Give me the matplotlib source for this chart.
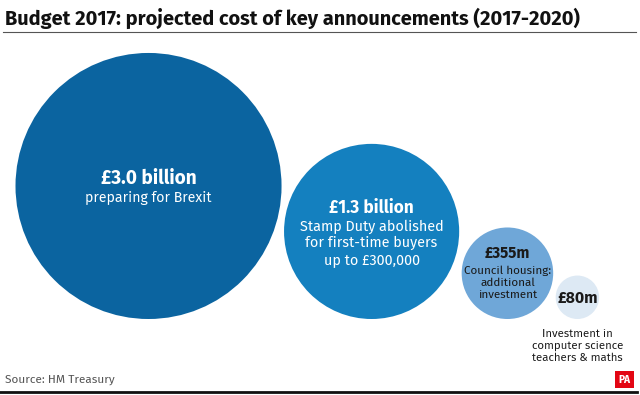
import matplotlib
matplotlib.use("Agg")
import matplotlib.pyplot as plt
from matplotlib.patches import Circle, Rectangle
import numpy as np

values = [3.0, 1.3, 0.355, 0.08]
amounts = ["£3.0 billion", "£1.3 billion", "£355m", "£80m"]
descriptions = ["preparing for Brexit",
                "Stamp Duty abolished\nfor first-time buyers\nup to £300,000",
                "Council housing:\nadditional\ninvestment",
                "Investment in\ncomputer science\nteachers & maths"]
colors = ["#0B64A0", "#1480BF", "#6FA7D8", "#DDE9F4"]
text_colors = ["white", "white", "#1a1a1a", "#1a1a1a"]

title = "Budget 2017: projected cost of key announcements (2017-2020)"
source = "Source: HM Treasury"

W, H = 640, 395
fig = plt.figure(figsize=(W / 100, H / 100), dpi=100)
ax = fig.add_axes([0, 0, 1, 1])
ax.set_xlim(0, W)
ax.set_ylim(H, 0)
ax.set_aspect("equal")
ax.axis("off")

BODY = ["Fira Sans", "DejaVu Sans"]
COND = ["Fira Sans Condensed", "DejaVu Sans"]

k = 76.8
bottom = 319
x_left = 15.5
gap = 2.5
centers = []
for v, c in zip(values, colors):
    r = k * np.sqrt(v)
    cx = x_left + r
    cy = bottom - r
    ax.add_patch(Circle((cx, cy), r, facecolor=c, edgecolor="none"))
    centers.append((cx, cy, r))
    x_left = cx + r + gap

# texts
cx, cy, r = centers[0]
ax.text(cx, 178, amounts[0], ha="center", va="center", color=text_colors[0],
        fontsize=13.7, fontweight="bold", family=BODY)
ax.text(cx, 198, descriptions[0], ha="center", va="center", color=text_colors[0],
        fontsize=10.2, family=BODY)

cx, cy, r = centers[1]
ax.text(cx, 208, amounts[1], ha="center", va="center", color=text_colors[1],
        fontsize=12.4, fontweight="bold", family=BODY)
ax.text(cx, 243, descriptions[1], ha="center", va="center", color=text_colors[1],
        fontsize=10.3, family=BODY, linespacing=1.19)

cx, cy, r = centers[2]
ax.text(cx, 253, amounts[2], ha="center", va="center", color=text_colors[2],
        fontsize=11, fontweight="bold", family=BODY)
ax.text(cx, 283, descriptions[2], ha="center", va="center", color=text_colors[2],
        fontsize=8.4, family=BODY, linespacing=1.15)

cx, cy, r = centers[3]
ax.text(cx, 298, amounts[3], ha="center", va="center", color=text_colors[3],
        fontsize=11.4, fontweight="bold", family=BODY)
ax.text(cx, 346, descriptions[3], ha="center", va="center", color=text_colors[3],
        fontsize=8.2, family=BODY, linespacing=1.14)

ax.text(5, 24.5, title, ha="left", va="baseline", color="#111111",
        fontsize=14.4, fontweight="bold", family=BODY)
ax.plot([3, 636], [31.7, 31.7], color="#555555", lw=0.8)

ax.text(5, 380, source, ha="left", va="center", color="#555555",
        fontsize=8.5, family=BODY)
ax.plot([0, 637], [391.5, 391.5], color="#111111", lw=2)
ax.add_patch(Rectangle((615, 371), 19, 17, facecolor="#E30613", edgecolor="none"))
ax.text(624.5, 379.5, "PA", ha="center", va="center", color="white",
        fontsize=8, fontweight="bold", family=COND)

fig.savefig("out.png", dpi=100, facecolor="white")
